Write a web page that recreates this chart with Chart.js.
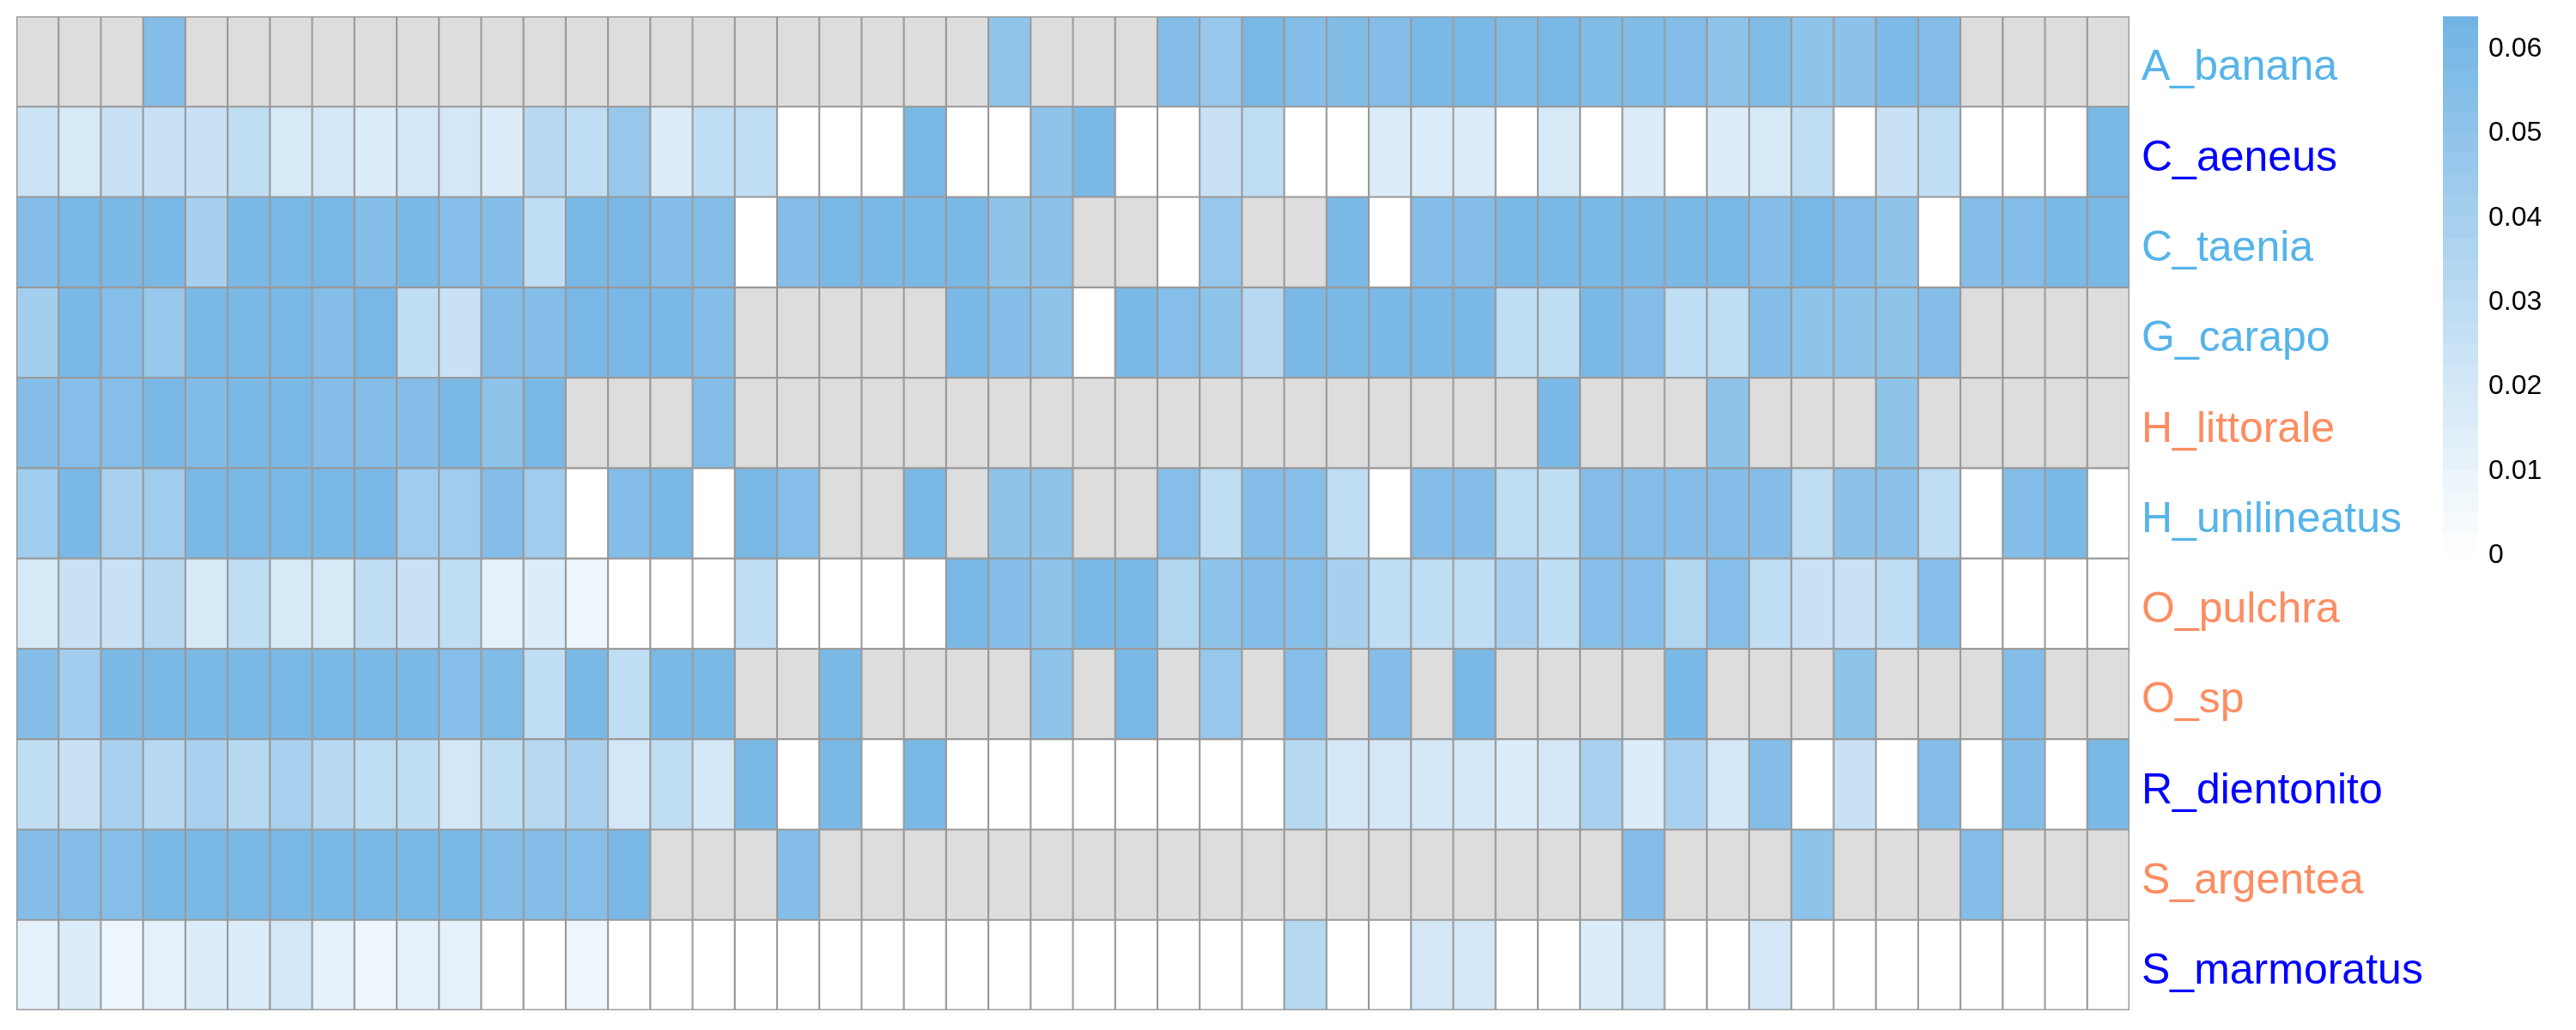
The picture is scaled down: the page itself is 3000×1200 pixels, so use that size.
<!DOCTYPE html>
<html>
<head>
<meta charset="utf-8">
<script src="https://cdn.jsdelivr.net/npm/chart.js@4.4.1/dist/chart.umd.min.js"></script>
<style>
  body { margin: 0; background: #ffffff; }
  canvas { display: block; }
</style>
</head>
<body>
<canvas id="heat" width="3000" height="1200"></canvas>
<script>
const N = null; // NA cells (grey)

const rowNames = ['A_banana', 'C_aeneus', 'C_taenia', 'G_carapo', 'H_littorale', 'H_unilineatus',
    'O_pulchra', 'O_sp', 'R_dientonito', 'S_argentea', 'S_marmoratus'];
const labelColors = ['#56B4E9', '#0000FF', '#56B4E9', '#56B4E9', '#FC8D62', '#56B4E9',
    '#FC8D62', '#FC8D62', '#0000FF', '#FC8D62', '#0000FF'];
const legendTicks = [0, 0.01, 0.02, 0.03, 0.04, 0.05, 0.06];

const aBanana = [N, N, N, .056, N, N, N, N, N, N, N, N, N, N, N, N, N, N, N, N, N, N, N, .050, N, N, N,
    .056, .047, .060, .056, .057, .056, .060, .060, .057, .061, .057, .057, .056, .051, .057, .051, .052, .058, .056, N, N, N, N];
const cAeneus = [.024, .019, .025, .025, .025, .029, .019, .020, .016, .020, .020, .016, .033, .029, .047, .016, .029,
    .029, 0, 0, 0, .060, 0, 0, .051, .060, 0, 0, .025, .029, 0, 0, .016, .016,
    .016, 0, .019, 0, .016, 0, .016, .019, .029, 0, .025, .029, 0, 0, 0, .060];
const cTaenia = [.056, .060, .060, .060, .040, .060, .060, .061, .056, .060, .055, .056, .029, .060, .060, .056, .056,
    0, .056, .060, .060, .060, .060, .051, .052, N, N, 0, .047, N, N, .060, 0, .056,
    .056, .060, .060, .060, .060, .060, .060, .056, .061, .056, .051, 0, .056, .056, .060, .060];
const gCarapo = [.041, .060, .055, .047, .060, .060, .060, .056, .061, .029, .025, .056, .056, .061, .061, .060, .056,
    N, N, N, N, N, .060, .056, .051, 0, .060, .055, .051, .033, .060, .060, .060, .060,
    .060, .029, .029, .060, .056, .029, .029, .056, .051, .051, .051, .056, N, N, N, N];
const hLittorale = [.056, .055, .055, .060, .057, .060, .060, .056, .056, .056, .060, .051, .060, N, N, N, .056,
    N, N, N, N, N, N, N, N, N, N, N, N, N, N, N, N, N,
    N, N, .060, N, N, N, .051, N, N, N, .051, N, N, N, N, N];
const hUnilineatus = [.043, .060, .039, .043, .060, .060, .060, .060, .060, .043, .043, .056, .043, 0, .056, .060, 0,
    .060, .055, N, N, .060, N, .051, .051, N, N, .055, .029, .056, .055, .029, 0, .056,
    .056, .029, .029, .056, .056, .056, .056, .056, .029, .052, .052, .029, 0, .056, .060, 0];
const oPulchra = [.019, .025, .025, .033, .019, .029, .019, .019, .029, .025, .029, .012, .016, .008, 0, 0, 0,
    .029, 0, 0, 0, 0, .060, .056, .051, .060, .060, .035, .051, .056, .055, .040, .029, .029,
    .029, .039, .029, .055, .055, .035, .055, .029, .025, .025, .029, .055, 0, 0, 0, 0];
const oSp = [.056, .042, .060, .060, .060, .060, .060, .060, .060, .060, .055, .057, .029, .060, .029, .060, .060,
    N, N, .060, N, N, N, N, .051, N, .060, N, .047, N, .055, N, .056, N,
    .060, N, N, N, N, .060, N, N, N, .051, N, N, N, .056, N, N];
const rDientonito = [.029, .025, .039, .033, .039, .033, .039, .033, .029, .029, .020, .029, .033, .039, .020, .029, .020,
    .060, 0, .060, 0, .060, 0, 0, 0, 0, 0, 0, 0, 0, .033, .020, .020, .020,
    .020, .016, .020, .039, .016, .039, .020, .056, 0, .025, 0, .056, 0, .056, 0, .060];
const sArgentea = [.056, .056, .055, .060, .060, .060, .060, .060, .060, .060, .060, .056, .056, .055, .061, N, N,
    N, .056, N, N, N, N, N, N, N, N, N, N, N, N, N, N, N,
    N, N, N, N, .056, N, N, N, .051, N, N, N, .056, N, N, N];
const sMarmoratus = [.012, .016, .008, .012, .016, .016, .020, .012, .008, .012, .012, 0, 0, .008, 0, 0, 0,
    0, 0, 0, 0, 0, 0, 0, 0, 0, 0, 0, 0, 0, .033, 0, 0, .020,
    .020, 0, 0, .016, .020, 0, 0, .020, 0, 0, 0, 0, 0, 0, 0, 0];

const rows = [aBanana, cAeneus, cTaenia, gCarapo, hLittorale, hUnilineatus,
    oPulchra, oSp, rDientonito, sArgentea, sMarmoratus];
const colNames = aBanana.map((v, i) => 'S' + (i + 1));

// white -> light blue, linear
function colorFor(v) {
    if (v === null) return '#dddddd';
    const t = Math.min(v / 0.06, 1.07);
    const r = Math.round(255 - 133 * t);
    const g = Math.round(255 - 71 * t);
    const b = Math.round(255 - 25 * t);
    return `rgb(${r},${g},${b})`;
}

const datasets = rows.map((vals, r) => ({
    label: rowNames[r],
    data: vals.map(() => [r, r + 1]),
    backgroundColor: vals.map(colorFor),
    borderColor: '#999999',
    borderWidth: 1.4,
    borderSkipped: false,
    grouped: false,
    barPercentage: 1,
    categoryPercentage: 1
}));

// outer frame so the edge lines match the inner ones
const frame = {
    id: 'frame',
    afterDatasetsDraw(chart) {
        const a = chart.chartArea;
        const ctx = chart.ctx;
        ctx.save();
        ctx.strokeStyle = '#999999';
        ctx.lineWidth = 1.4;
        ctx.strokeRect(a.left + 0.7, a.top + 0.7, a.right - a.left - 1.4, a.bottom - a.top - 1.4);
        ctx.restore();
    }
};

const rowLabels = {
    id: 'rowLabels',
    afterDraw(chart) {
        const ctx = chart.ctx;
        const y = chart.scales.y;
        ctx.save();
        ctx.font = '50px "Liberation Sans", Arial, sans-serif';
        ctx.textAlign = 'left';
        ctx.textBaseline = 'middle';
        rowNames.forEach((name, i) => {
            ctx.fillStyle = labelColors[i];
            ctx.fillText(name, chart.chartArea.right + 14, y.getPixelForValue(i + 0.5) + 8);
        });
        ctx.restore();
    }
};

const colorKey = {
    id: 'colorKey',
    afterDraw(chart) {
        const ctx = chart.ctx;
        const x = 2845, w = 41, top = 19, zeroY = 645, per = 98.3; // px per 0.01
        const vTop = (zeroY - top) / per * 0.01;
        const step = 0.0025;
        ctx.save();
        for (let v = 0; v < vTop; v += step) {
            const y1 = zeroY - v / 0.01 * per;
            const y2 = Math.max(top, zeroY - (v + step) / 0.01 * per);
            ctx.fillStyle = colorFor(v + step / 2);
            ctx.fillRect(x, y2, w, y1 - y2 + 0.5);
        }
        ctx.fillStyle = '#000000';
        ctx.font = '32px "Liberation Sans", Arial, sans-serif';
        ctx.textAlign = 'left';
        ctx.textBaseline = 'middle';
        legendTicks.forEach(t => {
            ctx.fillText(String(t), x + 53, zeroY - t / 0.01 * per + 2);
        });
        ctx.restore();
    }
};

new Chart(document.getElementById('heat'), {
    type: 'bar',
    data: { labels: colNames, datasets: datasets },
    options: {
        responsive: false,
        animation: false,
        devicePixelRatio: 1,
        layout: { padding: { left: 19, top: 19, right: 520, bottom: 23 } },
        plugins: { legend: { display: false }, tooltip: { enabled: false } },
        scales: {
            x: { type: 'category', display: false },
            y: { type: 'linear', min: 0, max: 11, reverse: true, display: false }
        }
    },
    plugins: [frame, rowLabels, colorKey]
});
</script>
</body>
</html>
